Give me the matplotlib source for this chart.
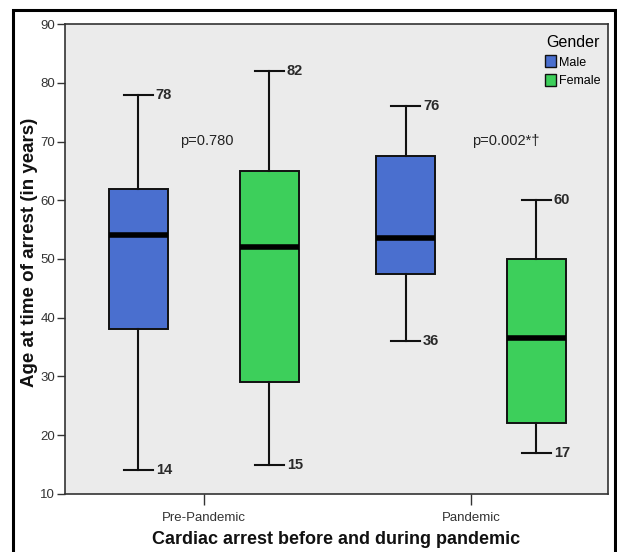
import matplotlib
matplotlib.use("Agg")
import matplotlib.pyplot as plt
from matplotlib.patches import Patch, Rectangle

# ---- data ----
groups = ["Pre-Pandemic", "Pandemic"]
genders = ["Male", "Female"]
male_min = [14, 36]
male_q1 = [38, 47.5]
male_med = [54, 53.5]
male_q3 = [62, 67.5]
male_max = [78, 76]
female_min = [15, 17]
female_q1 = [29, 22]
female_med = [52, 36.5]
female_q3 = [65, 50]
female_max = [82, 60]
p_labels = ["p=0.780", "p=0.002*\u2020"]
y_ticks = [10, 20, 30, 40, 50, 60, 70, 80, 90]

male_color = "#4a6fcf"
female_color = "#3dcf5b"

plt.rcParams["font.family"] = ["Liberation Sans", "DejaVu Sans"]

fig = plt.figure(figsize=(6.17, 5.52), dpi=100)
ax = fig.add_axes([0.1053, 0.1051, 0.8801, 0.8514])
ax.set_facecolor("#ebebeb")

offset = 0.245
width = 0.22
cap = 0.11

series = [
    (male_min, male_q1, male_med, male_q3, male_max, male_color, -offset),
    (female_min, female_q1, female_med, female_q3, female_max, female_color, offset),
]

for mins, q1s, meds, q3s, maxs, col, off in series:
    stats = []
    positions = []
    for i in range(len(groups)):
        stats.append(dict(whislo=mins[i], q1=q1s[i], med=meds[i], q3=q3s[i],
                          whishi=maxs[i], fliers=[]))
        positions.append(i + 1 + off)
    ax.bxp(stats, positions=positions, widths=width, patch_artist=True,
           showfliers=False, capwidths=cap,
           boxprops=dict(facecolor=col, edgecolor="#111111", linewidth=1.4),
           medianprops=dict(color="black", linewidth=4),
           whiskerprops=dict(color="#111111", linewidth=1.5),
           capprops=dict(color="#111111", linewidth=1.5))
    for i in range(len(groups)):
        for v in (mins[i], maxs[i]):
            ax.text(i + 1 + off + cap / 2 + 0.01, v, f"{v:g}", ha="left", va="center",
                    fontsize=10.5, fontweight="bold", color="#2a2a2a")

# p-values
ax.text(1.01, 70.1, p_labels[0], ha="center", va="center", fontsize=10.5, color="#222222")
ax.text(2.005, 70.1, p_labels[1], ha="left", va="center", fontsize=10.5, color="#222222")

ax.set_xlim(0.48, 2.513)
ax.set_ylim(10, 90)
ax.set_yticks(y_ticks)
ax.set_yticklabels([str(t) for t in y_ticks], fontsize=9.5, color="#333333")
ax.set_xticks([1, 2])
ax.set_xticklabels(groups, fontsize=9.5, color="#333333")
ax.tick_params(axis="both", direction="out", width=1, color="#333333")
ax.tick_params(axis="x", length=8, pad=5)
ax.tick_params(axis="y", length=6, pad=1)
for s in ax.spines.values():
    s.set_color("#333333")
    s.set_linewidth(1.2)

ax.set_xlabel("Cardiac arrest before and during pandemic", fontsize=13,
              fontweight="bold", color="#111111", labelpad=5)
ax.set_ylabel("Age at time of arrest (in years)", fontsize=13.5,
              fontweight="bold", color="#111111")
ax.yaxis.set_label_coords(-0.05, 0.515)

handles = [Patch(facecolor=male_color, edgecolor="#111111", label=genders[0]),
           Patch(facecolor=female_color, edgecolor="#111111", label=genders[1])]
leg = ax.legend(handles=handles, title="Gender", loc="upper right",
                bbox_to_anchor=(1.005, 1.0), frameon=False, fontsize=9,
                title_fontsize=11.5, handlelength=0.9, handleheight=1.1,
                handletextpad=0.2, labelspacing=0.45, borderpad=0.35,
                alignment="right")

# outer black frame
fig.patches.append(Rectangle((13 / 617, -0.05), (615 - 13) / 617, 1.05 - 10 / 552,
                             transform=fig.transFigure, fill=False,
                             edgecolor="black", linewidth=2.2, zorder=10))

fig.savefig("out.png", dpi=100)
